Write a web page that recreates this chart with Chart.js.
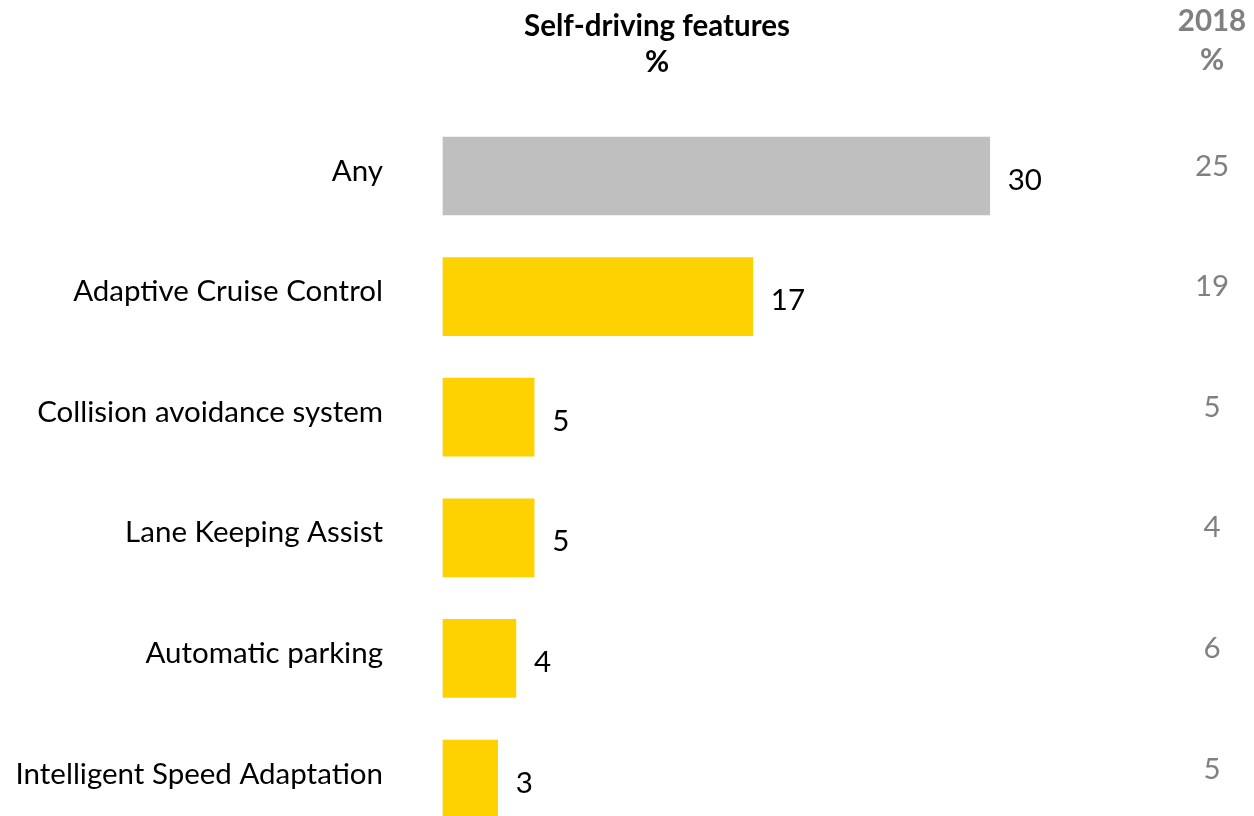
<!DOCTYPE html>
<html>
<head>
<meta charset="utf-8">
<title>Self-driving features</title>
<script src="https://cdn.jsdelivr.net/npm/chart.js@4/dist/chart.umd.min.js"></script>
<style>
  html, body { margin: 0; padding: 0; background: #fff; overflow: hidden; }
  #wrap { position: relative; width: 1254px; height: 816px; }
</style>
</head>
<body>
<div id="wrap"><canvas id="chart"></canvas></div>
<script>
// ============ DATA ============
const categories = [
  'Any',
  'Adaptive Cruise Control',
  'Collision avoidance system',
  'Lane Keeping Assist',
  'Automatic parking',
  'Intelligent Speed Adaptation',
];
const values2019 = [30, 17, 5, 5, 4, 3];
const values2018 = [25, 19, 5, 4, 6, 5];

const GREY = '#BFBFBF';
const YELLOW = '#FDD200';
const MUTED = '#808080';
const FONT = 'Lato, "Open Sans", sans-serif';
const SIZE = 29.5;

const barColors = categories.map((c, i) => i === 0 ? GREY : YELLOW);

// ============ LABEL PLUGIN ============
// value labels next to bars + 2018 comparison column + headers
const labelsPlugin = {
  id: 'labels',
  afterDatasetsDraw(chart) {
    const { ctx, scales } = chart;
    const meta = chart.getDatasetMeta(0);
    ctx.save();

    // headers
    ctx.textAlign = 'center';
    ctx.textBaseline = 'middle';
    ctx.fillStyle = '#000';
    ctx.font = `bold ${SIZE}px ${FONT}`;
    ctx.fillText('Self-driving features', 657, 26);
    ctx.fillText('%', 657, 62);
    ctx.fillStyle = MUTED;
    ctx.fillText('2018', 1212, 21);
    ctx.fillText('%', 1212, 60);

    // bar values
    ctx.font = `${SIZE}px ${FONT}`;
    ctx.textAlign = 'left';
    ctx.fillStyle = '#000';
    meta.data.forEach((bar, i) => {
      ctx.fillText(String(values2019[i]), bar.x + 18, bar.y + 4);
    });

    // 2018 column
    ctx.textAlign = 'center';
    ctx.fillStyle = MUTED;
    values2018.forEach((v, i) => {
      ctx.fillText(String(v), 1212, scales.y.getPixelForValue(i) - 10);
    });

    ctx.restore();
  }
};

// ============ CHART ============
new Chart(document.getElementById('chart'), {
  type: 'bar',
  data: {
    labels: categories,
    datasets: [{
      data: values2019,
      backgroundColor: barColors,
      borderWidth: 0,
      barThickness: 78,
      clip: false,
    }]
  },
  options: {
    indexAxis: 'y',
    responsive: true,
    maintainAspectRatio: false,
    animation: false,
    layout: { padding: { top: 176, bottom: 37, left: 0, right: 82 } },
    plugins: {
      legend: { display: false },
      tooltip: { enabled: false },
    },
    scales: {
      x: { display: false, min: 0, max: 40 },
      y: {
        offset: false,
        grid: { display: false, drawTicks: false },
        border: { display: false },
        ticks: {
          color: '#000',
          padding: 60,
          labelOffset: -5,
          font: { family: FONT, size: SIZE },
        },
        afterFit(scale) {
          scale.width = 443;
          // tick padding shouldn't eat vertical space
          scale.paddingTop = 0;
          scale.paddingBottom = 0;
        },
      }
    }
  },
  plugins: [labelsPlugin]
});
</script>
</body>
</html>
